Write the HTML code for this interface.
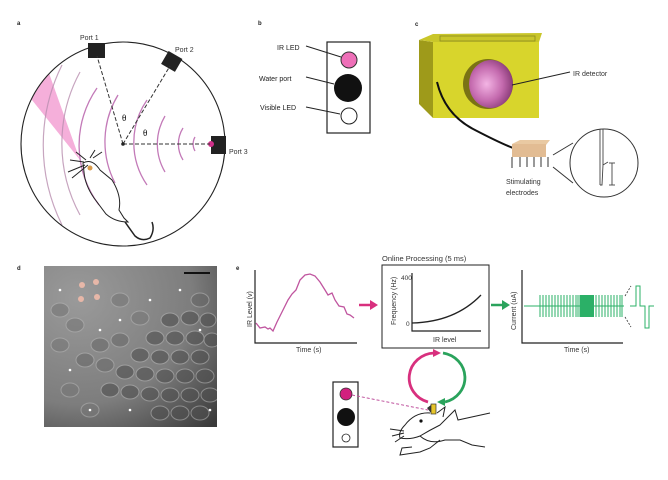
<!DOCTYPE html>
<html><head><meta charset="utf-8"><style>
html,body{margin:0;padding:0;background:#fff;}
svg{display:block;font-family:"Liberation Sans",sans-serif;}
</style></head><body>
<svg width="668" height="480" viewBox="0 0 668 480" xmlns="http://www.w3.org/2000/svg">
<defs>
<radialGradient id="sph" cx="0.4" cy="0.5" r="0.6"><stop offset="0" stop-color="#f3b4e4"/><stop offset="0.6" stop-color="#c46aae"/><stop offset="1" stop-color="#8a3c78"/></radialGradient>
<radialGradient id="dg" cx="0.2" cy="0.2" r="1.1"><stop offset="0" stop-color="#9a9a9a"/><stop offset="0.6" stop-color="#7d7d7d"/><stop offset="1" stop-color="#3a3a3a"/></radialGradient>
<clipPath id="cc"><circle cx="123" cy="144" r="102"/></clipPath>
<clipPath id="dc"><rect x="44" y="266" width="173" height="161"/></clipPath>
</defs>
<g font-size="6" font-weight="bold" fill="#222">
<text x="17" y="25">a</text><text x="258" y="25">b</text><text x="415" y="26">c</text><text x="17" y="270">d</text><text x="236" y="270">e</text></g>

<!-- panel a -->
<g clip-path="url(#cc)">
<polygon points="80,160 28,95 45,62" fill="#f4a6d6" opacity="0.9"/>
<g fill="none" stroke="#b98fb0" stroke-width="1.2" opacity="0.8">
<path d="M80,215 A150,150 0 0 1 80,72"/>
<path d="M62,225 A180,180 0 0 1 62,65"/>
</g>
<g fill="none" stroke="#c37ab8" stroke-width="1.3">
<path d="M195,137 A14,14 0 0 0 195,151"/>
<path d="M183,128 A30,30 0 0 0 183,160"/>
<path d="M165,116 A55,55 0 0 0 165,172"/>
<path d="M147,100 A75,75 0 0 0 147,185"/>
<path d="M118,95 A90,90 0 0 0 115,183"/>
<path d="M97,88 A100,100 0 0 0 99,205"/>
</g>
</g>
<circle cx="123" cy="144" r="102" fill="none" stroke="#222" stroke-width="1.1"/>
<rect x="88" y="43" width="17" height="15" fill="#222"/>
<rect x="164" y="54" width="16" height="15" fill="#222" transform="rotate(30 172 61)"/>
<rect x="211" y="136" width="15" height="18" fill="#222"/>
<circle cx="211" cy="144" r="3" fill="#d0308a"/>
<g stroke="#333" stroke-dasharray="4,2" stroke-width="1">
<line x1="123" y1="144" x2="97" y2="56"/><line x1="123" y1="144" x2="170" y2="66"/><line x1="123" y1="144" x2="210" y2="144"/></g>
<circle cx="123" cy="144" r="1.8" fill="#222"/>
<g font-family="Liberation Serif" font-size="9"><text x="122" y="121">θ</text><text x="143" y="136">θ</text></g>
<g font-size="7" fill="#333"><text x="80" y="40">Port 1</text><text x="175" y="52">Port 2</text><text x="229" y="154">Port 3</text></g>
<g fill="none" stroke="#222" stroke-width="1">
<path d="M83,163 Q92,158 100,170 L112,180 Q122,196 119,210 L124,218 L128,222 Q115,222 106,214 L94,198 Q85,185 84,172 Z"/>
<path d="M125,222 L135,236 Q142,242 150,238 Q155,230 152,222" stroke-width="1.5"/>
<path d="M84,162 L70,160 M86,160 L76,152 M85,165 L68,172 M90,158 L95,150 M93,158 L102,152 M88,165 L72,178"/>
</g>
<circle cx="90" cy="168" r="2.5" fill="#d89a4a"/>

<!-- panel b -->
<rect x="327" y="42" width="43" height="91" fill="#fff" stroke="#222" stroke-width="1.2"/>
<circle cx="349" cy="60" r="8" fill="#ee6fb8" stroke="#333" stroke-width="1"/>
<circle cx="348" cy="88" r="14" fill="#111"/>
<circle cx="349" cy="116" r="8" fill="#fff" stroke="#222" stroke-width="1"/>
<g stroke="#222" stroke-width="1"><line x1="306" y1="46" x2="341" y2="57"/><line x1="306" y1="77" x2="334" y2="84"/><line x1="306" y1="107" x2="340" y2="114"/></g>
<g font-size="7" fill="#222"><text x="277" y="50">IR LED</text><text x="259" y="81">Water port</text><text x="260" y="110">Visible LED</text></g>

<!-- panel c -->
<polygon points="419,40 433,42 433,118 419,104" fill="#9e9a1a"/>
<rect x="433" y="40" width="106" height="78" fill="#d8d52c"/>
<polygon points="419,40 433,34 542,33 539,42 433,42" fill="#c9c62a"/>
<g stroke="#8c8a1e" stroke-width="0.8" fill="none"><rect x="440" y="36" width="95" height="5"/></g>
<circle cx="488" cy="84" r="25" fill="#7a7214"/>
<ellipse cx="491" cy="84" rx="22" ry="24" fill="url(#sph)"/>
<line x1="512" y1="85" x2="570" y2="72" stroke="#222" stroke-width="1"/>
<text x="573" y="76" font-size="7" fill="#333">IR detector</text>
<path d="M437,82 Q445,115 475,130 Q500,143 513,148" fill="none" stroke="#111" stroke-width="2"/>
<polygon points="512,144 520,140 550,140 546,145" fill="#e9c9a2"/>
<rect x="512" y="144" width="34" height="13" fill="#e2bc93"/>
<g stroke="#333" stroke-width="1"><line x1="512" y1="157" x2="512" y2="168"/><line x1="520" y1="157" x2="520" y2="167"/><line x1="527" y1="157" x2="527" y2="167"/><line x1="534" y1="157" x2="534" y2="167"/><line x1="541" y1="157" x2="541" y2="167"/><line x1="548" y1="157" x2="548" y2="167"/>
<line x1="553" y1="155" x2="573" y2="143"/><line x1="553" y1="167" x2="573" y2="183"/></g>
<circle cx="604" cy="163" r="34" fill="#fff" stroke="#333" stroke-width="1"/>
<g stroke="#444" stroke-width="0.9" fill="none"><line x1="600" y1="129" x2="600" y2="185"/><line x1="603" y1="129" x2="603" y2="165"/><path d="M600,185 L602,185 L603,165 L608,162"/><line x1="612" y1="163" x2="612" y2="185"/><line x1="609" y1="163" x2="615" y2="163"/><line x1="609" y1="185" x2="615" y2="185"/></g>
<g font-size="7" fill="#333"><text x="506" y="184">Stimulating</text><text x="506" y="195">electrodes</text></g>

<!-- panel d -->
<rect x="44" y="266" width="173" height="161" fill="url(#dg)"/>
<g clip-path="url(#dc)" stroke="#b0b0b0" stroke-width="1" fill="#505050" opacity="0.6">
<ellipse cx="170" cy="320" rx="9" ry="7"/><ellipse cx="190" cy="318" rx="9" ry="7"/><ellipse cx="208" cy="320" rx="8" ry="7"/>
<ellipse cx="155" cy="338" rx="9" ry="7"/><ellipse cx="175" cy="338" rx="9" ry="7"/><ellipse cx="195" cy="338" rx="9" ry="7"/><ellipse cx="212" cy="340" rx="8" ry="7"/>
<ellipse cx="140" cy="355" rx="9" ry="7"/><ellipse cx="160" cy="357" rx="9" ry="7"/><ellipse cx="180" cy="357" rx="9" ry="7"/><ellipse cx="200" cy="357" rx="9" ry="7"/>
<ellipse cx="125" cy="372" rx="9" ry="7"/><ellipse cx="145" cy="374" rx="9" ry="7"/><ellipse cx="165" cy="376" rx="9" ry="7"/><ellipse cx="185" cy="376" rx="9" ry="7"/><ellipse cx="205" cy="376" rx="9" ry="7"/>
<ellipse cx="110" cy="390" rx="9" ry="7"/><ellipse cx="130" cy="392" rx="9" ry="7"/><ellipse cx="150" cy="394" rx="9" ry="7"/><ellipse cx="170" cy="395" rx="9" ry="7"/><ellipse cx="190" cy="395" rx="9" ry="7"/><ellipse cx="210" cy="395" rx="9" ry="7"/>
<ellipse cx="160" cy="413" rx="9" ry="7"/><ellipse cx="180" cy="413" rx="9" ry="7"/><ellipse cx="200" cy="413" rx="9" ry="7"/>
<ellipse cx="100" cy="345" rx="9" ry="7" fill="#6a6a6a"/><ellipse cx="120" cy="340" rx="9" ry="7" fill="#6a6a6a"/><ellipse cx="85" cy="360" rx="9" ry="7" fill="#6a6a6a"/><ellipse cx="105" cy="365" rx="9" ry="7" fill="#6a6a6a"/>
<ellipse cx="60" cy="310" rx="9" ry="7" fill="#777"/><ellipse cx="75" cy="325" rx="9" ry="7" fill="#777"/><ellipse cx="60" cy="345" rx="9" ry="7" fill="#777"/><ellipse cx="70" cy="390" rx="9" ry="7" fill="#777"/><ellipse cx="90" cy="410" rx="9" ry="7" fill="#777"/><ellipse cx="120" cy="300" rx="9" ry="7" fill="#777"/><ellipse cx="140" cy="318" rx="9" ry="7" fill="#777"/><ellipse cx="200" cy="300" rx="9" ry="7" fill="#666"/>
</g>
<g fill="#fff"><circle cx="60" cy="290" r="1.3"/><circle cx="100" cy="330" r="1.3"/><circle cx="150" cy="300" r="1.3"/><circle cx="180" cy="290" r="1.3"/><circle cx="70" cy="370" r="1.3"/><circle cx="90" cy="410" r="1.3"/><circle cx="130" cy="410" r="1.3"/><circle cx="200" cy="330" r="1.3"/><circle cx="210" cy="410" r="1.3"/><circle cx="120" cy="320" r="1.3"/></g>
<rect x="184" y="272" width="26" height="2" fill="#111"/>
<g fill="#e7b7a8"><circle cx="82" cy="285" r="3"/><circle cx="96" cy="282" r="3"/><circle cx="81" cy="299" r="3"/><circle cx="97" cy="297" r="3"/></g>

<!-- panel e -->
<g stroke="#222" stroke-width="1.2" fill="none">
<polyline points="255,270 255,343 357,343"/>
<polyline points="522,270 522,343 623,343"/>
<rect x="382" y="265" width="107" height="83" stroke-width="1"/>
<polyline points="412,273 412,331 481,331"/>
<path d="M412,323 Q455,322 481,295" stroke-width="1.3"/>
</g>
<polyline fill="none" stroke="#c0559f" stroke-width="1.3" points="256,323 260,328 265,327 268,329 270,328 273,331 277,322 283,310 288,300 292,294 296,290 300,280 305,275 310,274 315,276 320,282 325,290 328,295 332,293 335,300 339,306 344,307 347,314 350,315 354,318"/>
<g font-size="7" fill="#333">
<text x="296" y="352">Time (s)</text>
<text x="564" y="352">Time (s)</text>
<text x="433" y="342">IR level</text>
<text x="382" y="261" font-size="7.5">Online Processing (5 ms)</text>
<text x="401" y="280" font-size="6.5">400</text><text x="406" y="326" font-size="6.5">0</text>
<text transform="translate(252,327) rotate(-90)">IR Level (v)</text>
<text transform="translate(396,325) rotate(-90)">Frequency (Hz)</text>
<text transform="translate(516,330) rotate(-90)">Current (uA)</text>
</g>
<line x1="359" y1="305" x2="372" y2="305" stroke="#d8307e" stroke-width="2.5"/><polygon points="370,300 378,305 370,310" fill="#d8307e"/>
<line x1="491" y1="305" x2="504" y2="305" stroke="#2aa35c" stroke-width="2.5"/><polygon points="502,300 510,305 502,310" fill="#2aa35c"/>
<g stroke="#2bb067" stroke-width="1">
<line x1="524" y1="306" x2="624" y2="306"/>
<path d="M540,295V317M543,295V317M546,295V317M549,295V317M552,295V317M555,295V317M558,295V317M561,295V317M564,295V317M567,295V317M570,295V317M573,295V317M576,295V317M578,295V317M580,295V317M596,295V317M599,295V317M602,295V317M605,295V317M608,295V317M611,295V317M614,295V317M617,295V317M620,295V317M622,295V317"/>
<rect x="580" y="295" width="14" height="22" fill="#2bb067" stroke="none"/>
<polyline fill="none" points="630,306 636,306 636,286 640,286 640,306 645,306 645,328 649,328 649,306 654,306"/>
</g>
<g stroke="#333" stroke-width="0.8" stroke-dasharray="2,1.5"><line x1="625" y1="296" x2="631" y2="286"/><line x1="625" y1="317" x2="631" y2="327"/></g>
<g fill="none" stroke-width="2.8">
<path d="M428,402 A26,25 0 0 1 434,353" stroke="#d8307e"/>
<path d="M443,353 A26,25 0 0 1 445,402" stroke="#2aa35c"/>
</g>
<polygon points="433,349 441,353 433,357" fill="#d8307e"/>
<polygon points="445,398 437,402 445,406" fill="#2aa35c"/>
<rect x="333" y="382" width="25" height="65" fill="#fff" stroke="#222" stroke-width="1.2"/>
<circle cx="346" cy="394" r="6" fill="#d21f7e" stroke="#333" stroke-width="0.8"/>
<circle cx="346" cy="417" r="9" fill="#111"/>
<circle cx="346" cy="438" r="4" fill="#fff" stroke="#222" stroke-width="0.8"/>
<line x1="352" y1="395" x2="428" y2="410" stroke="#c0559f" stroke-dasharray="3,2" stroke-width="1"/>
<rect x="431" y="404" width="5" height="10" fill="#e6c52a" stroke="#333" stroke-width="0.7"/>
<path d="M427,408 L431,405 L431,413 Z" fill="#333"/>
<g fill="none" stroke="#222" stroke-width="1">
<path d="M430,413 Q415,412 405,425 Q398,432 400,438 Q410,440 420,436 Q430,430 440,425 L455,410 L458,420 L490,413"/>
<path d="M420,436 Q430,445 445,440 L460,440 L472,445 L485,447"/>
<path d="M440,440 L430,448 L420,452 L400,455 L402,448 L412,447"/>
<path d="M437,413 L445,407 L443,417"/>
<path d="M404,431 L390,429 M404,433 L392,436 M404,436 L395,442"/>
</g>
<circle cx="421" cy="421" r="1.6" fill="#111"/>
</svg>
</body></html>
